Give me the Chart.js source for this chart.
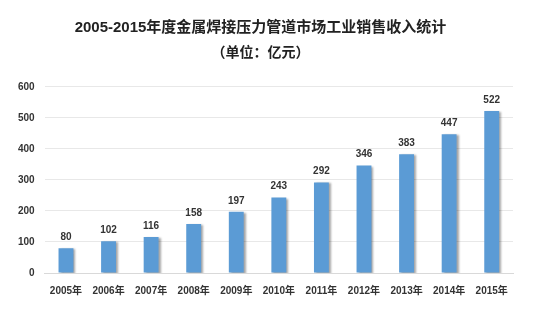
<!DOCTYPE html>
<html>
<head>
<meta charset="utf-8">
<script src="https://cdn.jsdelivr.net/npm/chart.js@4"></script>
<style>
    html, body { margin: 0; padding: 0; background: #fff; }
    #wrap { width: 547px; height: 325px; position: relative; }
</style>
</head>
<body>
<div id="wrap"><canvas id="salesChart"></canvas></div>
<script>
// 2005-2015 金属焊接压力管道市场工业销售收入 (亿元)
const years = ['2005年', '2006年', '2007年', '2008年', '2009年', '2010年', '2011年', '2012年', '2013年', '2014年', '2015年'];
const revenue = [80, 102, 116, 158, 197, 243, 292, 346, 383, 447, 522];
const yTicks = [0, 100, 200, 300, 400, 500, 600];

const FONT = '"Liberation Sans", "Noto Sans CJK SC", sans-serif';

// 柱顶数值
const valueLabels = {
    id: 'valueLabels',
    afterDatasetsDraw(chart) {
        const ctx = chart.ctx;
        const meta = chart.getDatasetMeta(0);
        ctx.save();
        ctx.font = 'bold 10px ' + FONT;
        ctx.fillStyle = '#333';
        ctx.textAlign = 'center';
        ctx.textBaseline = 'bottom';
        meta.data.forEach((bar, i) => {
            ctx.fillText(revenue[i], bar.x, bar.y - 6);
        });
        ctx.restore();
    }
};

// 柱子阴影
const barShadow = {
    id: 'barShadow',
    beforeDatasetsDraw(chart) {
        const ctx = chart.ctx;
        ctx.save();
        ctx.shadowColor = 'rgba(0,0,0,0.35)';
        ctx.shadowOffsetX = 2;
        ctx.shadowOffsetY = 1;
        ctx.shadowBlur = 2;
    },
    afterDatasetsDraw(chart) {
        chart.ctx.restore();
    }
};

new Chart(document.getElementById('salesChart'), {
    type: 'bar',
    data: {
        labels: years,
        datasets: [{
            data: revenue,
            backgroundColor: '#5b9bd5',
            borderWidth: 0,
            barPercentage: 0.35,
            categoryPercentage: 1.0
        }]
    },
    options: {
        responsive: true,
        maintainAspectRatio: false,
        animation: false,
        layout: { padding: { left: 8, right: 34, top: 4, bottom: 24 } },
        plugins: {
            legend: { display: false },
            tooltip: { enabled: false },
            title: {
                display: true,
                text: '2005-2015年度金属焊接压力管道市场工业销售收入统计',
                color: '#222',
                font: { family: FONT, size: 15, weight: 'bold' },
                padding: { top: 15, bottom: 8 }
            },
            subtitle: {
                display: true,
                text: '（单位：亿元）',
                color: '#222',
                font: { family: FONT, size: 14, weight: 'bold' },
                padding: { bottom: 25 }
            }
        },
        scales: {
            x: {
                grid: { display: false },
                border: { color: '#d9d9d9' },
                ticks: {
                    color: '#333',
                    font: { family: FONT, size: 10, weight: 'bold' },
                    maxRotation: 0,
                    autoSkip: false,
                    padding: 4
                }
            },
            y: {
                min: 0,
                max: 600,
                afterBuildTicks(axis) {
                    axis.ticks = yTicks.map(v => ({ value: v }));
                },
                grid: { color: '#e8e8e8', drawTicks: false },
                border: { display: false },
                ticks: {
                    color: '#333',
                    font: { family: FONT, size: 10, weight: 'bold' },
                    padding: 10
                }
            }
        }
    },
    plugins: [barShadow, valueLabels]
});
</script>
</body>
</html>
